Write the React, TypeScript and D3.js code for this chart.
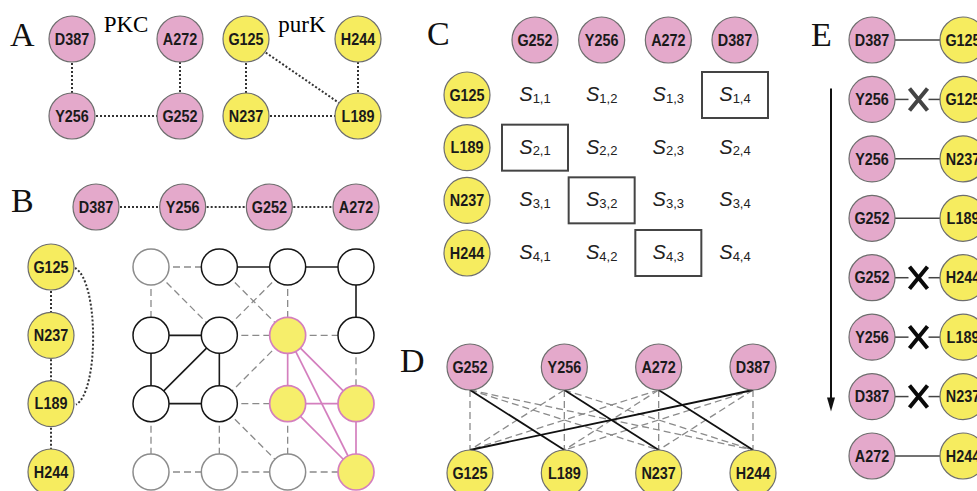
import * as d3 from "d3";

const PINK = "#e4a9cb";
const YELLOW = "#f6ec5f";
const RIM = "#6e6e6e";

// residues and contact edges of both sites
const pkcResidues = ["D387", "Y256", "G252", "A272"];
const purkResidues = ["G125", "N237", "L189", "H244"];
const pkcEdges: [string, string][] = [
  ["D387", "Y256"],
  ["Y256", "G252"],
  ["G252", "A272"],
];
const purkEdges: [string, string][] = [
  ["G125", "N237"],
  ["N237", "L189"],
  ["L189", "H244"],
  ["G125", "L189"],
];

// panel B product graph, cells are [purK index, PKC index]
const gridFaint: [number, number][] = [[0, 0], [3, 0], [3, 1], [3, 2]];
const gridClique: [number, number][] = [[1, 2], [2, 2], [2, 3], [3, 3]];
const gridSolidEdges: [number, number, number, number][] = [
  [0, 1, 0, 2], [0, 2, 0, 3], [0, 3, 1, 3], [1, 0, 1, 1],
  [1, 0, 2, 0], [1, 1, 2, 1], [2, 0, 2, 1], [2, 0, 1, 1],
];
const gridCliqueEdges: [number, number, number, number][] = [
  [1, 2, 2, 2], [1, 2, 2, 3], [1, 2, 3, 3],
  [2, 2, 2, 3], [2, 2, 3, 3], [2, 3, 3, 3],
];
const gridDashedEdges: [number, number, number, number][] = [
  [0, 0, 0, 1], [0, 0, 1, 0], [0, 0, 1, 1], [0, 1, 1, 2], [0, 2, 1, 1],
  [0, 2, 1, 2], [1, 1, 1, 2], [1, 2, 1, 3], [1, 3, 2, 3], [1, 2, 2, 1],
  [2, 1, 2, 2], [2, 0, 3, 0], [2, 1, 3, 1], [2, 1, 3, 2], [2, 2, 3, 2],
  [3, 0, 3, 1], [3, 1, 3, 2], [3, 2, 3, 3],
];

// panels C and D
const pkcOrder = ["G252", "Y256", "A272", "D387"];
const purkOrder = ["G125", "L189", "N237", "H244"];
const matching: [string, string][] = [
  ["D387", "G125"],
  ["Y256", "N237"],
  ["G252", "L189"],
  ["A272", "H244"],
];

// panel E search steps
const searchSteps = [
  { pkc: "D387", purk: "G125", ok: true },
  { pkc: "Y256", purk: "G125", ok: false },
  { pkc: "Y256", purk: "N237", ok: true },
  { pkc: "G252", purk: "L189", ok: true },
  { pkc: "G252", purk: "H244", ok: false },
  { pkc: "Y256", purk: "L189", ok: false },
  { pkc: "D387", purk: "N237", ok: false },
  { pkc: "A272", purk: "H244", ok: true },
];

const sans = "'Liberation Sans', Arial, sans-serif";
const serif = "'Liberation Serif', 'Times New Roman', serif";
const dotted = { stroke: "#333", strokeWidth: 2, strokeDasharray: "2 2", fill: "none" };
const dashed = { stroke: "#8a8a8a", strokeWidth: 1.3, strokeDasharray: "7 4", fill: "none" };

const Node = ({ x, y, label, fill, r = 23 }: { x: number; y: number; label: string; fill: string; r?: number }) => (
  <g>
    <circle cx={x} cy={y} r={r} fill={fill} stroke={RIM} strokeWidth={1.2} />
    <text
      transform={`translate(${x},${y}) scale(0.9,1)`}
      dy="0.36em"
      textAnchor="middle"
      fontFamily={sans}
      fontWeight="bold"
      fontSize={16}
      fill="#1a1a1a"
    >
      {label}
    </text>
  </g>
);

const Letter = ({ x, y, t }: { x: number; y: number; t: string }) => (
  <text x={x} y={y} fontFamily={serif} fontSize={34} fill="#111">{t}</text>
);

const PanelA = () => {
  const row = d3.scaleLinear().domain([0, 1]).range([39, 116]);
  const pkcCol = d3.scaleLinear().domain([0, 1]).range([72, 180]);
  const purkCol = d3.scaleLinear().domain([0, 1]).range([246, 358]);
  const pkcCell: Record<string, [number, number]> = { D387: [0, 0], A272: [1, 0], Y256: [0, 1], G252: [1, 1] };
  const purkCell: Record<string, [number, number]> = { G125: [0, 0], H244: [1, 0], N237: [0, 1], L189: [1, 1] };
  const pkcPos = (k: string) => [pkcCol(pkcCell[k][0]), row(pkcCell[k][1])];
  const purkPos = (k: string) => [purkCol(purkCell[k][0]), row(purkCell[k][1])];
  return (
    <g>
      <Letter x={10} y={46} t="A" />
      <text x={126} y={32} textAnchor="middle" fontFamily={serif} fontSize={23}>PKC</text>
      <text x={302} y={32} textAnchor="middle" fontFamily={serif} fontSize={23}>purK</text>
      {pkcEdges.map(([a, b]) => {
        const [x1, y1] = pkcPos(a);
        const [x2, y2] = pkcPos(b);
        return <line key={a + b} x1={x1} y1={y1} x2={x2} y2={y2} {...dotted} />;
      })}
      {purkEdges.map(([a, b]) => {
        const [x1, y1] = purkPos(a);
        const [x2, y2] = purkPos(b);
        return <line key={a + b} x1={x1} y1={y1} x2={x2} y2={y2} {...dotted} />;
      })}
      {pkcResidues.map((k) => {
        const [x, y] = pkcPos(k);
        return <Node key={k} x={x} y={y} label={k} fill={PINK} />;
      })}
      {purkResidues.map((k) => {
        const [x, y] = purkPos(k);
        return <Node key={k} x={x} y={y} label={k} fill={YELLOW} />;
      })}
    </g>
  );
};

const PanelB = () => {
  const topX = d3.scalePoint<string>().domain(pkcResidues).range([96, 356]);
  const topY = 207;
  const sideY = d3.scalePoint<string>().domain(purkResidues).range([267, 472]);
  const sideX = 51;
  const gx = d3.scaleLinear().domain([0, 3]).range([151, 356]);
  const gy = d3.scaleLinear().domain([0, 3]).range([267, 472]);
  const isIn = (list: [number, number][], i: number, j: number) => list.some(([a, b]) => a === i && b === j);
  const cells = d3.cross(d3.range(4), d3.range(4));
  const seg = (e: number[], style: object, k: number) => (
    <line key={k} x1={gx(e[1])} y1={gy(e[0])} x2={gx(e[3])} y2={gy(e[2])} {...style} />
  );
  const sideIdx = (k: string) => purkResidues.indexOf(k);
  return (
    <g>
      <Letter x={11} y={212} t="B" />
      {pkcEdges.map(([a, b]) => (
        <line key={a + b} x1={topX(a)} y1={topY} x2={topX(b)} y2={topY} {...dotted} />
      ))}
      {purkEdges.map(([a, b]) => {
        if (Math.abs(sideIdx(a) - sideIdx(b)) === 1)
          return <line key={a + b} x1={sideX} y1={sideY(a)} x2={sideX} y2={sideY(b)} {...dotted} />;
        const p = d3.path();
        const y1 = sideY(a)!;
        const y2 = sideY(b)!;
        p.moveTo(sideX + 24, y1 + 1);
        p.bezierCurveTo(sideX + 48, y1 + 14, sideX + 48, y2 - 12, sideX + 25, y2 + 1);
        return <path key={a + b} d={p.toString()} {...dotted} />;
      })}
      {pkcResidues.map((k) => <Node key={k} x={topX(k)!} y={topY} label={k} fill={PINK} />)}
      {purkResidues.map((k) => <Node key={k} x={sideX} y={sideY(k)!} label={k} fill={YELLOW} />)}
      {gridDashedEdges.map((e, k) => seg(e, dashed, k))}
      {gridSolidEdges.map((e, k) => seg(e, { stroke: "#1a1a1a", strokeWidth: 1.6 }, k))}
      {gridCliqueEdges.map((e, k) => seg(e, { stroke: "#d47fbe", strokeWidth: 1.7 }, k))}
      {cells.map(([i, j]) => {
        const clique = isIn(gridClique, i, j);
        const faint = isIn(gridFaint, i, j);
        return (
          <circle
            key={`${i}-${j}`}
            cx={gx(j)}
            cy={gy(i)}
            r={18}
            fill={clique ? "#f6ee6b" : "#fff"}
            stroke={clique ? "#d47fbe" : faint ? "#8c8c8c" : "#151515"}
            strokeWidth={clique ? 1.7 : 1.5}
          />
        );
      })}
    </g>
  );
};

const PanelC = () => {
  const cx = d3.scalePoint<string>().domain(pkcOrder).range([535, 735]);
  const cy = d3.scalePoint<string>().domain(purkOrder).range([95, 253]);
  const isMatch = (p: string, q: string) => matching.some(([a, b]) => a === p && b === q);
  return (
    <g>
      <Letter x={427} y={45} t="C" />
      {pkcOrder.map((k) => <Node key={k} x={cx(k)!} y={40} label={k} fill={PINK} />)}
      {purkOrder.map((k) => <Node key={k} x={467} y={cy(k)!} label={k} fill={YELLOW} />)}
      {purkOrder.map((q, i) =>
        pkcOrder.map((p, j) => (
          <g key={p + q}>
            {isMatch(p, q) && (
              <rect x={cx(p)! - 33} y={cy(q)! - 23} width={66} height={46} fill="none" stroke="#444" strokeWidth={2} />
            )}
            <text x={cx(p)} y={cy(q)! + 6} textAnchor="middle" fontFamily={sans} fill="#222">
              <tspan fontStyle="italic" fontSize={20}>S</tspan>
              <tspan fontSize={13} dy={1.5}>{`${i + 1},${j + 1}`}</tspan>
            </text>
          </g>
        ))
      )}
    </g>
  );
};

const PanelD = () => {
  const topX = d3.scalePoint<string>().domain(pkcOrder).range([470, 753]);
  const botX = d3.scalePoint<string>().domain(purkOrder).range([470, 753]);
  const topY = 367;
  const botY = 473;
  const r = 23;
  const pairs = d3.cross(pkcOrder, purkOrder);
  const isMatch = (p: string, q: string) => matching.some(([a, b]) => a === p && b === q);
  return (
    <g>
      <Letter x={400} y={372} t="D" />
      {pairs
        .filter(([p, q]) => !isMatch(p, q))
        .map(([p, q]) => (
          <line key={p + q} x1={topX(p)} y1={topY + r} x2={botX(q)} y2={botY - r} {...dashed} />
        ))}
      {matching.map(([p, q]) => (
        <line key={p + q} x1={topX(p)} y1={topY + r} x2={botX(q)} y2={botY - r} stroke="#111" strokeWidth={1.8} />
      ))}
      {pkcOrder.map((k) => <Node key={k} x={topX(k)!} y={topY} label={k} fill={PINK} />)}
      {purkOrder.map((k) => <Node key={k} x={botX(k)!} y={botY} label={k} fill={YELLOW} />)}
    </g>
  );
};

const PanelE = () => {
  const ey = d3.scalePoint<number>().domain(d3.range(searchSteps.length)).range([40, 456]);
  const px = 872;
  const qx = 963;
  const r = 23;
  const mid = (px + qx) / 2;
  const arrowTop = ey(1)! - 11;
  const arrowTip = ey(6)! + 15;
  return (
    <g>
      <Letter x={811} y={46} t="E" />
      <line x1={831} y1={arrowTop} x2={831} y2={arrowTip - 12} stroke="#111" strokeWidth={2} />
      <path d={`M${827},${arrowTip - 14}L${835},${arrowTip - 14}L${831},${arrowTip}Z`} fill="#111" />
      {searchSteps.map((s, i) => {
        const y = ey(i)!;
        const xc = i === 1 ? "#444" : "#0a0a0a";
        return (
          <g key={i}>
            {s.ok ? (
              <line x1={px + r} y1={y} x2={qx - r} y2={y} stroke="#444" strokeWidth={1.5} />
            ) : (
              <g>
                <line x1={px + r} y1={y} x2={mid - 9} y2={y} stroke="#444" strokeWidth={1.5} />
                <line x1={mid + 11} y1={y} x2={qx - r} y2={y} stroke="#444" strokeWidth={1.5} />
                <path
                  d={`M${mid - 8},${y - 11}L${mid + 10},${y + 11}M${mid + 10},${y - 11}L${mid - 8},${y + 11}`}
                  stroke={xc}
                  strokeWidth={4}
                  fill="none"
                />
              </g>
            )}
            <Node x={px} y={y} label={s.pkc} fill={PINK} />
            <Node x={qx} y={y} label={s.purk} fill={YELLOW} />
          </g>
        );
      })}
    </g>
  );
};

export default function App() {
  return (
    <svg
      width={977}
      height={491}
      style={{ position: "absolute", left: 0, top: 0, display: "block", background: "#fff" }}
    >
      <PanelA />
      <PanelB />
      <PanelC />
      <PanelD />
      <PanelE />
    </svg>
  );
}
